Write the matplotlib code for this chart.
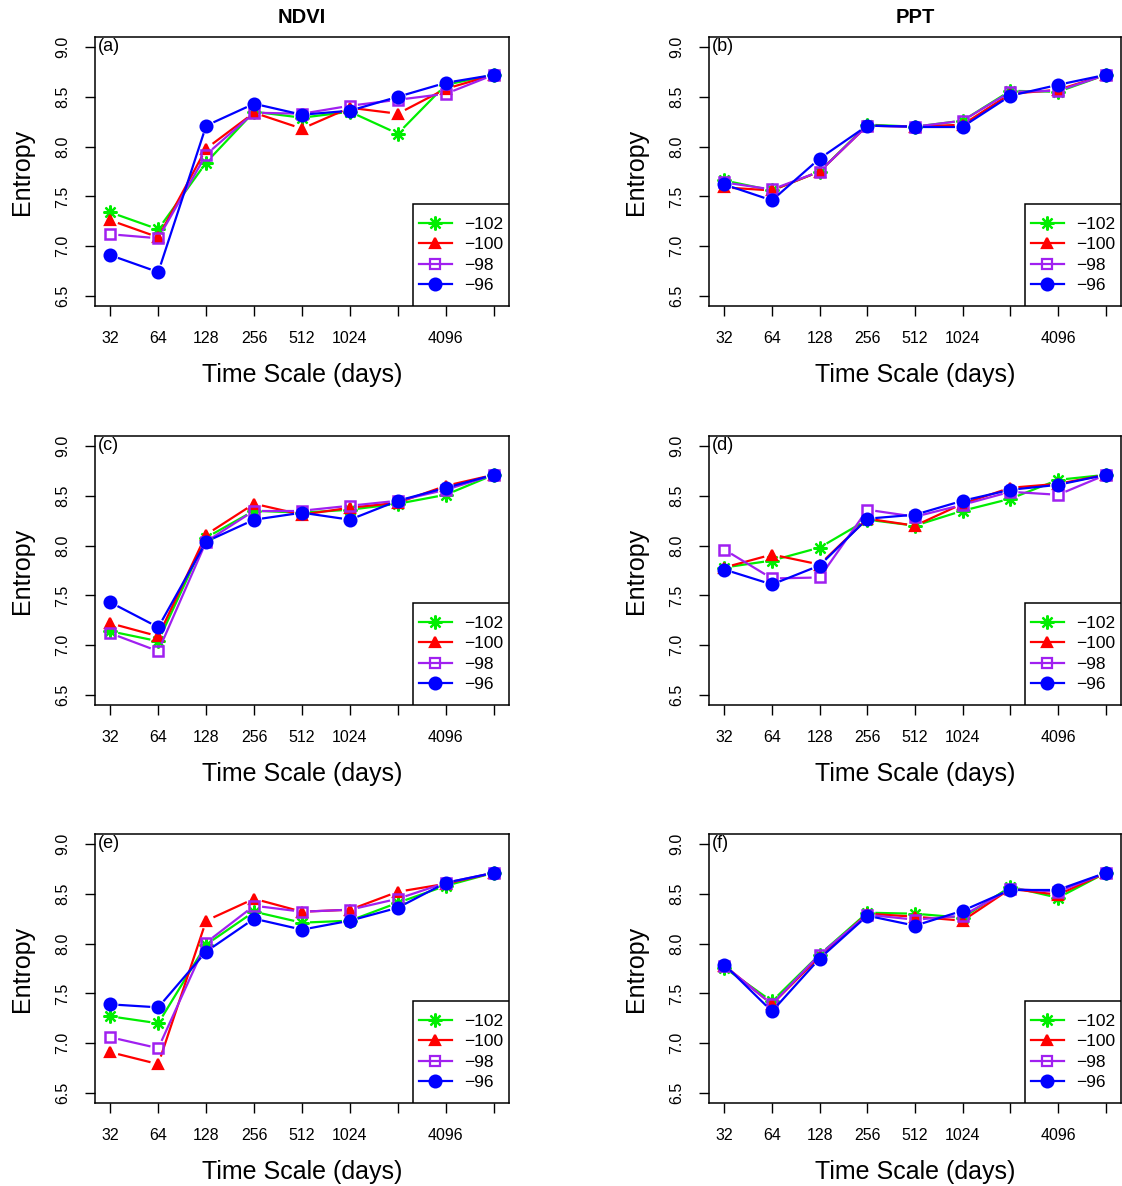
import numpy as np
import matplotlib
matplotlib.use('Agg')
import matplotlib.pyplot as plt
from matplotlib.lines import Line2D
from matplotlib.patches import Rectangle

plt.rcParams['font.family'] = ['Liberation Sans', 'DejaVu Sans']

# Time scales (days); 2048 and 8192 get no tick label, as in the original
scales = [32, 64, 128, 256, 512, 1024, 2048, 4096, 8192]
scale_labels = ['32', '64', '128', '256', '512', '1024', '', '4096', '']
series_names = ['\u2212102', '\u2212100', '\u221298', '\u221296']

# Entropy values per panel, one row per series (-102, -100, -98, -96)
entropy_a = [
    [7.34, 7.17, 7.84, 8.35, 8.29, 8.35, 8.13, 8.62, 8.72],
    [7.26, 7.09, 7.98, 8.34, 8.18, 8.39, 8.33, 8.58, 8.72],
    [7.12, 7.08, 7.92, 8.34, 8.33, 8.41, 8.47, 8.53, 8.72],
    [6.91, 6.74, 8.21, 8.43, 8.32, 8.36, 8.50, 8.64, 8.72],
]
entropy_b = [
    [7.66, 7.56, 7.75, 8.22, 8.20, 8.26, 8.56, 8.55, 8.72],
    [7.59, 7.56, 7.75, 8.21, 8.20, 8.22, 8.53, 8.57, 8.72],
    [7.64, 7.57, 7.75, 8.21, 8.20, 8.26, 8.55, 8.56, 8.72],
    [7.62, 7.46, 7.88, 8.21, 8.20, 8.20, 8.51, 8.62, 8.72],
]
entropy_c = [
    [7.14, 7.04, 8.08, 8.35, 8.33, 8.36, 8.42, 8.51, 8.71],
    [7.22, 7.09, 8.11, 8.42, 8.31, 8.38, 8.43, 8.60, 8.71],
    [7.12, 6.94, 8.04, 8.35, 8.35, 8.40, 8.45, 8.56, 8.71],
    [7.43, 7.18, 8.04, 8.26, 8.33, 8.26, 8.45, 8.58, 8.71],
]
entropy_d = [
    [7.78, 7.85, 7.98, 8.26, 8.20, 8.35, 8.47, 8.66, 8.71],
    [7.78, 7.91, 7.81, 8.27, 8.20, 8.42, 8.58, 8.62, 8.71],
    [7.96, 7.67, 7.68, 8.36, 8.29, 8.41, 8.54, 8.51, 8.71],
    [7.76, 7.61, 7.80, 8.27, 8.31, 8.45, 8.56, 8.61, 8.71],
]
entropy_e = [
    [7.27, 7.20, 7.99, 8.32, 8.21, 8.23, 8.41, 8.58, 8.71],
    [6.91, 6.79, 8.23, 8.45, 8.32, 8.34, 8.52, 8.60, 8.71],
    [7.06, 6.95, 8.01, 8.38, 8.32, 8.34, 8.45, 8.61, 8.71],
    [7.39, 7.36, 7.92, 8.25, 8.14, 8.23, 8.36, 8.61, 8.71],
]
entropy_f = [
    [7.76, 7.42, 7.89, 8.31, 8.30, 8.26, 8.57, 8.46, 8.71],
    [7.78, 7.39, 7.87, 8.30, 8.27, 8.23, 8.55, 8.49, 8.71],
    [7.78, 7.39, 7.89, 8.29, 8.24, 8.28, 8.55, 8.52, 8.71],
    [7.79, 7.32, 7.85, 8.28, 8.18, 8.33, 8.54, 8.54, 8.71],
]

panels = [entropy_a, entropy_b, entropy_c, entropy_d, entropy_e, entropy_f]
panel_tags = ['(a)', '(b)', '(c)', '(d)', '(e)', '(f)']
col_titles = ['NDVI', 'PPT']

colors = ['#00ee00', '#ff0000', '#a020f0', '#0000ff']
markers = [(8, 2, 0), '^', 's', 'o']
msizes = [10, 7.5, 6.5, 8.5]
mfaces = ['none', '#ff0000', 'none', '#0000ff']

W, H = 1122, 1186
fig = plt.figure(figsize=(W / 100, H / 100), dpi=100)

col_left = [95, 709]
col_width = [414, 412]
row_top = [37, 436, 834]
ax_h = 269
leg_w, leg_h = 96, 102   # legend box size in pixels


def gapped_line(ax, xs, ys, color, gap=8):
    # R type="b": line segments stop short of each point
    pts = ax.transData.transform(np.column_stack([xs, ys]))
    inv = ax.transData.inverted()
    for p0, p1 in zip(pts[:-1], pts[1:]):
        d = p1 - p0
        L = np.hypot(d[0], d[1])
        if L <= 2 * gap:
            continue
        u = d / L
        seg = inv.transform(np.array([p0 + u * gap, p1 - u * gap]))
        ax.plot(seg[:, 0], seg[:, 1], color=color, lw=1.6, solid_capstyle='butt')


xpos = np.arange(1, len(scales) + 1)

for k, data in enumerate(panels):
    r, c = divmod(k, 2)
    rect = [col_left[c] / W, 1 - (row_top[r] + ax_h) / H, col_width[c] / W, ax_h / H]
    ax = fig.add_axes(rect)
    ax.set_xlim(0.68, 9.32)
    ax.set_ylim(6.4, 9.1)

    for i, ys in enumerate(data):
        gapped_line(ax, xpos, ys, colors[i])
        ax.plot(xpos, ys, linestyle='none', marker=markers[i], ms=msizes[i],
                mfc=mfaces[i], mec=colors[i], mew=1.6 if i != 2 else 1.8)

    ax.set_xticks(xpos)
    ax.set_xticklabels(scale_labels)
    ax.set_yticks([6.5, 7.0, 7.5, 8.0, 8.5, 9.0])
    ax.set_yticklabels(['6.5', '7.0', '7.5', '8.0', '8.5', '9.0'], rotation=90, va='center')
    ax.tick_params(axis='both', length=7, width=1, labelsize=11.5, pad=11)
    for sp in ax.spines.values():
        sp.set_linewidth(1.1)

    ax.set_xlabel('Time Scale (days)', fontsize=18, va='center')
    ax.xaxis.set_label_coords(0.5, -0.257)
    ax.set_ylabel('Entropy', fontsize=18, va='center')
    ax.yaxis.set_label_coords(-0.177, 0.5)

    ax.text(0.006, 0.995, panel_tags[k], transform=ax.transAxes, fontsize=13,
            ha='left', va='top')

    if r == 0:
        ax.set_title(col_titles[c], fontsize=14.5, fontweight='bold', pad=10)

    # legend frame in the lower right corner, R style
    lw_ax = leg_w / col_width[c]
    lh_ax = leg_h / ax_h
    ax.add_patch(Rectangle((1 - lw_ax, 0), lw_ax, lh_ax, transform=ax.transAxes,
                           facecolor='white', edgecolor='black', lw=1.1, zorder=5))
    handles = [Line2D([0], [0], color=colors[i], lw=1.6, marker=markers[i], ms=msizes[i],
                      mfc=mfaces[i], mec=colors[i], mew=1.6) for i in range(4)]
    leg = ax.legend(handles, series_names, loc='center',
                    bbox_to_anchor=(1 - lw_ax, 0, lw_ax, lh_ax), borderaxespad=0,
                    frameon=False, fontsize=12.5, handlelength=1.9,
                    labelspacing=0.3, borderpad=0, handletextpad=0.7)
    leg.set_zorder(6)

fig.savefig('out.png', dpi=100)
